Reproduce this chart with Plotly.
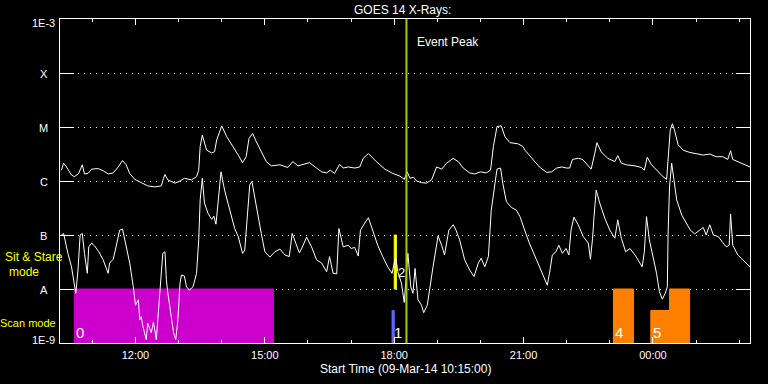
import numpy as np
import pandas as pd
import plotly.graph_objects as go

START = pd.Timestamp("2014-03-09 10:15:00")
END = pd.Timestamp("2014-03-10 02:15:00")

# GOES 14 long channel (1-8 A): minutes after start, log10(flux W/m^2)
long_min = [2,5,9,16,20,26,31,34,39,44,53,60,67,74,81,87,92,97,104,113,122,132,141,144,146,150,160,167,173,183,
            190,193,195,198,204,211,215,218,225,232,241,248,254,259,263,268,273,280,287,294,306,317,324,331,340,347,357,364,371,376,
            382,389,394,401,410,417,422,429,440,452,463,473,479,483,487,492,496,503,510,517,524,531,538,547,554,561,570,577,585,593,
            599,603,608,614,619,626,637,644,647,658,667,677,684,691,698,705,709,713,721,727,732,739,744,747,753,762,772,776,781,788,
            800,809,813,817,823,832,839,844,847,849,852,855,860,867,876,885,895,904,913,922,929,933,936,946,960]
long_log = [-5.80,-5.67,-5.74,-5.89,-5.92,-5.86,-5.70,-5.87,-5.86,-5.78,-5.77,-5.81,-5.87,-5.85,-5.74,-5.62,-5.70,-5.86,-5.97,-6.03,
            -6.09,-6.11,-6.09,-5.95,-5.88,-5.98,-6.04,-6.00,-5.95,-5.98,-5.92,-5.80,-5.36,-5.15,-5.43,-5.48,-5.46,-5.24,-4.98,-5.18,
            -5.36,-5.52,-5.66,-5.55,-5.21,-5.12,-5.27,-5.46,-5.64,-5.72,-5.70,-5.75,-5.64,-5.72,-5.69,-5.66,-5.76,-5.83,-5.85,-5.80,
            -5.86,-5.69,-5.76,-5.74,-5.76,-5.74,-5.58,-5.49,-5.64,-5.78,-5.86,-5.91,-5.97,-5.83,-5.95,-5.93,-6.00,-6.03,-6.04,-5.98,
            -5.74,-5.78,-5.67,-5.58,-5.64,-5.76,-5.85,-5.87,-5.83,-5.85,-5.80,-5.36,-4.99,-4.98,-5.18,-5.29,-5.31,-5.36,-5.43,-5.61,
            -5.74,-5.84,-5.83,-5.76,-5.74,-5.76,-5.76,-5.60,-5.58,-5.60,-5.67,-5.78,-5.49,-5.29,-5.46,-5.58,-5.64,-5.53,-5.67,-5.70,
            -5.72,-5.75,-5.80,-5.56,-5.70,-5.83,-5.92,-5.97,-5.49,-5.06,-4.94,-5.06,-5.33,-5.43,-5.47,-5.50,-5.52,-5.50,-5.55,-5.55,
            -5.60,-5.44,-5.60,-5.66,-5.74]

# GOES 14 short channel (0.5-4 A)
short_min = [2,5,11,16,22,25,28,31,34,38,40,44,48,54,60,67,69,74,78,83,87,92,97,102,105,109,111,113,115,120,
             122,127,130,134,138,140,143,146,148,150,155,158,161,164,167,169,173,176,180,185,190,193,195,198,201,206,211,214,217,220,
             224,229,236,243,248,254,257,261,264,267,273,280,285,292,299,306,313,319,323,328,333,338,343,350,357,364,371,375,380,385,
             388,394,401,405,410,415,418,424,429,435,442,449,456,462,467,470,475,479,482,484,488,491,494,498,503,506,511,514,519,526,
             531,535,541,547,551,556,563,570,576,582,586,591,596,600,605,608,613,616,621,628,635,640,646,653,663,672,678,681,685,690,
             694,699,704,708,711,715,721,728,732,735,738,741,743,746,751,758,765,772,776,781,787,793,800,807,810,813,816,820,824,830,
             834,838,842,845,846,848,851,854,858,865,872,877,883,890,895,899,904,909,916,922,927,931,933,936,943,950,960]
short_log = [-7.00,-6.97,-7.34,-7.59,-8.08,-7.65,-7.00,-6.97,-7.34,-7.71,-7.22,-7.15,-7.20,-7.31,-7.46,-7.71,-7.52,-7.45,-7.22,-6.91,
             -6.89,-7.22,-7.52,-7.96,-8.30,-8.20,-8.57,-8.51,-8.67,-8.94,-8.63,-8.81,-8.61,-8.94,-8.20,-7.83,-7.34,-7.31,-7.83,-8.07,
             -8.51,-8.81,-8.94,-8.57,-7.89,-7.74,-7.76,-7.96,-8.02,-7.96,-7.71,-7.09,-6.35,-5.95,-6.41,-6.60,-6.71,-6.65,-6.80,-6.35,
             -5.83,-6.17,-6.54,-6.88,-7.03,-7.34,-7.28,-6.54,-6.07,-6.01,-6.48,-6.97,-7.31,-7.41,-7.31,-7.26,-7.37,-7.40,-6.97,-7.15,
             -7.33,-7.20,-7.04,-7.22,-7.46,-7.52,-7.68,-7.40,-7.71,-7.72,-6.88,-7.22,-7.19,-7.25,-7.23,-7.39,-6.91,-6.78,-6.68,-6.91,
             -7.19,-7.40,-7.59,-7.71,-7.40,-7.68,-7.89,-8.25,-7.77,-7.34,-7.96,-8.08,-7.62,-8.20,-8.30,-8.44,-8.30,-8.02,-7.59,-7.02,
             -7.19,-7.37,-6.91,-6.81,-6.91,-7.09,-7.46,-7.65,-7.77,-7.52,-7.43,-7.59,-7.40,-6.54,-6.11,-5.78,-5.76,-6.04,-6.38,-6.49,
             -6.54,-6.66,-6.89,-7.15,-7.46,-7.74,-7.93,-7.71,-7.37,-7.31,-7.19,-7.34,-7.25,-7.37,-6.91,-6.67,-6.81,-7.03,-7.09,-7.15,
             -7.45,-7.06,-6.66,-6.17,-6.41,-6.69,-6.91,-7.06,-6.72,-7.06,-7.31,-7.25,-7.37,-7.52,-7.59,-7.31,-6.66,-7.09,-7.34,-7.71,
             -8.05,-8.19,-8.08,-7.96,-7.00,-6.11,-5.67,-5.98,-6.35,-6.63,-6.78,-6.91,-6.98,-6.91,-6.86,-7.00,-6.81,-7.00,-7.03,-7.14,
             -7.22,-7.19,-6.61,-7.19,-7.37,-7.46,-7.59]

assert len(long_min) == len(long_log) and len(short_min) == len(short_log)

x_tick_times = ["2014-03-09 12:00", "2014-03-09 15:00", "2014-03-09 18:00", "2014-03-09 21:00", "2014-03-10 00:00"]
x_tick_labels = ["12:00", "15:00", "18:00", "21:00", "00:00"]
y_tick_vals = [1e-9, 1e-8, 1e-7, 1e-6, 1e-5, 1e-4, 1e-3]
y_tick_labels = ["1E-9", "A", "B", "C", "M", "X", "1E-3"]

event_peak = "2014-03-09 18:17"

# instrument mode blocks
mode_labels = ["0", "1", "2", "4", "5", ""]
mode_start = ["2014-03-09 10:35", "2014-03-09 17:57", "2014-03-09 18:00", "2014-03-09 23:05", "2014-03-09 23:57", "2014-03-10 00:23"]
mode_end = ["2014-03-09 15:12", "2014-03-09 18:00", "2014-03-09 18:03", "2014-03-09 23:33", "2014-03-10 00:23", "2014-03-10 00:51"]
mode_bottom = [1e-9, 1e-9, 1e-8, 1e-9, 1e-9, 1e-9]
mode_top = [1e-8, 4e-9, 1e-7, 1e-8, 4e-9, 1e-8]
mode_colors = ["#cc00cc", "#6464ff", "#ffff00", "#ff8000", "#ff8000", "#ff8000"]

FONT = "Liberation Sans, Arial, sans-serif"

fig = go.Figure()

for s, e, b, t, c in zip(mode_start, mode_end, mode_bottom, mode_top, mode_colors):
    fig.add_trace(go.Scatter(x=[s, s, e, e, s], y=[b, t, t, b, b], mode="lines", fill="toself",
                             fillcolor=c, line=dict(color=c, width=1), hoverinfo="skip", showlegend=False))

t_long = START + pd.to_timedelta(long_min, unit="m")
t_short = START + pd.to_timedelta(short_min, unit="m")
fig.add_trace(go.Scatter(x=t_long, y=10 ** np.array(long_log), mode="lines",
                         line=dict(color="white", width=1), showlegend=False))
fig.add_trace(go.Scatter(x=t_short, y=10 ** np.array(short_log), mode="lines",
                         line=dict(color="white", width=1), showlegend=False))

fig.add_shape(type="line", x0=event_peak, x1=event_peak, y0=0, y1=1, xref="x", yref="paper",
              line=dict(color="#a0cc00", width=2), layer="above")

ann = []
# mode labels
for lab, s in zip(mode_labels, mode_start):
    if not lab:
        continue
    if lab == "2":
        ann.append(dict(x=s, y=-7.69, xref="x", yref="y", text=lab, showarrow=False, xanchor="left",
                        xshift=2, font=dict(color="white", size=13, family=FONT)))
    else:
        ann.append(dict(x=s, y=-8.81, xref="x", yref="y", text=lab, showarrow=False, xanchor="left",
                        xshift=0, font=dict(color="white", size=15, family=FONT)))

# y labels
for v, lab in zip(y_tick_vals, y_tick_labels):
    shift = -1
    if lab == "1E-3":
        shift = -4
    if lab == "1E-9":
        shift = 3
    ann.append(dict(x=-0.0232, y=np.log10(v), xref="paper", yref="y", text=lab, showarrow=False,
                    xanchor="center", yanchor="middle", yshift=shift, font=dict(color="white", size=11, family=FONT)))

ann.append(dict(x=0.4957, y=1.0293, xref="paper", yref="paper", text="GOES 14 X-Rays:", showarrow=False,
                xanchor="center", yanchor="middle", font=dict(color="white", size=12, family=FONT)))
ann.append(dict(x=event_peak, y=-3.435, xref="x", yref="y", text="Event Peak", showarrow=False,
                xanchor="left", yanchor="middle", xshift=9, font=dict(color="white", size=12, family=FONT)))
ann.append(dict(x=0.5, y=-0.080, xref="paper", yref="paper", text="Start Time (09-Mar-14 10:15:00)", showarrow=False,
                xanchor="center", yanchor="middle", font=dict(color="white", size=12, family=FONT)))
ann.append(dict(x=-0.0377, y=0.2639, xref="paper", yref="paper", text="Sit & Stare", showarrow=False,
                xanchor="center", yanchor="middle", font=dict(color="#ffff00", size=12, family=FONT)))
ann.append(dict(x=-0.0517, y=0.2176, xref="paper", yref="paper", text="mode", showarrow=False,
                xanchor="center", yanchor="middle", font=dict(color="#ffff00", size=12, family=FONT)))
ann.append(dict(x=-0.0459, y=0.0617, xref="paper", yref="paper", text="Scan mode", showarrow=False,
                xanchor="center", yanchor="middle", font=dict(color="#ffff00", size=11, family=FONT)))

fig.update_layout(
    width=768, height=384,
    margin=dict(l=60, r=18, t=19, b=41),
    paper_bgcolor="black", plot_bgcolor="black",
    annotations=ann,
    showlegend=False,
    xaxis=dict(type="date", range=[START, END], tickmode="array", tickvals=x_tick_times, ticktext=x_tick_labels,
               ticks="inside", ticklen=6, tickwidth=1, tickcolor="white", showline=True, linecolor="white",
               linewidth=1, mirror="ticks", showgrid=False, zeroline=False, ticklabelstandoff=2,
               tickfont=dict(color="white", size=11, family=FONT),
               minor=dict(dtick=3600000, ticks="inside", ticklen=3, tickcolor="white", tickwidth=1, showgrid=False)),
    yaxis=dict(type="log", range=[-9, -3], tickmode="array", tickvals=y_tick_vals, showticklabels=False,
               ticks="inside", ticklen=14, tickwidth=1, tickcolor="white", showline=True, linecolor="white",
               linewidth=1, mirror="ticks", showgrid=True, gridcolor="white", gridwidth=1, griddash="1px,5px",
               zeroline=False),
)

fig.write_html("out.html")
